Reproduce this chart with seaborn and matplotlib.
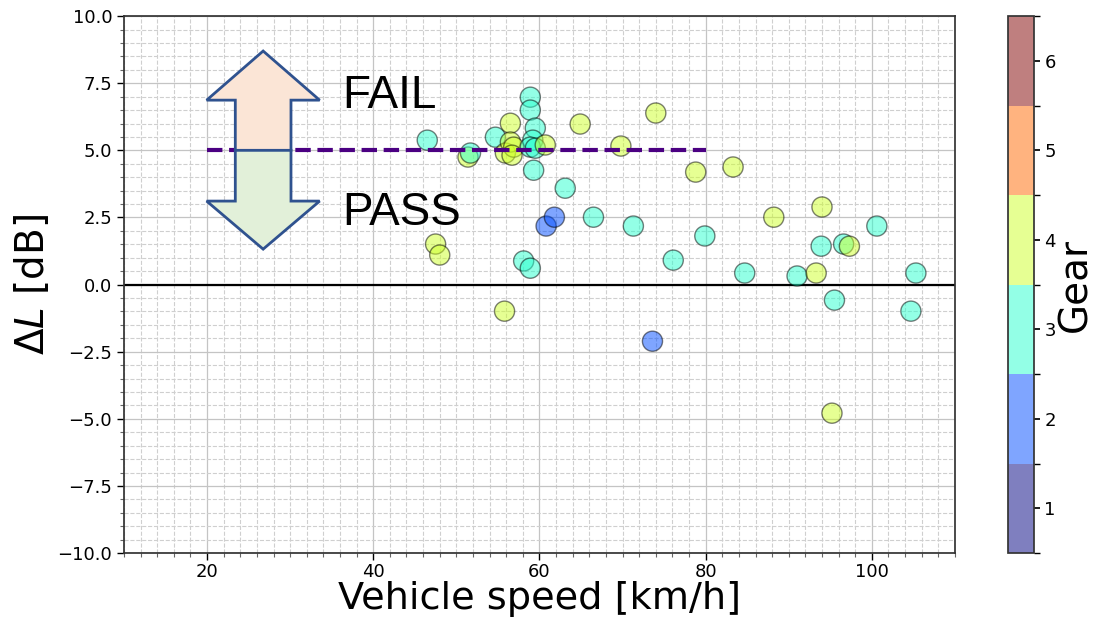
import numpy as np
import pandas as pd
import matplotlib
matplotlib.use("Agg")
import matplotlib.pyplot as plt
from matplotlib.colors import ListedColormap, BoundaryNorm
from matplotlib.cm import ScalarMappable
from matplotlib.patches import FancyArrow
from matplotlib.ticker import MultipleLocator
import seaborn as sns

# Measured level differences per pass-by
speed_kmh = [46.5, 47.5, 48.0, 51.4, 51.7, 54.7, 55.8, 55.9, 56.5, 56.5,
             56.9, 56.7, 58.1, 58.9, 58.9, 59.5, 59.2, 58.9, 59.5, 58.9,
             59.3, 60.7, 60.8, 61.8, 63.1, 64.9, 66.5, 69.8, 71.3, 74.0,
             73.6, 76.1, 78.8, 79.9, 83.3, 84.7, 88.2, 91.0, 93.3, 94.0,
             93.9, 95.5, 95.2, 96.6, 97.3, 100.6, 104.7, 105.3]
delta_l_db = [5.38, 1.51, 1.10, 4.75, 4.90, 5.49, -0.99, 4.90, 6.01, 5.31,
              5.12, 4.82, 0.88, 6.98, 6.50, 5.83, 5.38, 5.12, 5.08, 0.61,
              4.26, 5.20, 2.18, 2.51, 3.59, 5.98, 2.51, 5.16, 2.18, 6.39,
              -2.11, 0.91, 4.19, 1.81, 4.38, 0.43, 2.51, 0.32, 0.43, 2.89,
              1.43, -0.58, -4.79, 1.51, 1.43, 2.18, -0.99, 0.43]
gear = [3, 4, 4, 4, 3, 3, 4, 4, 4, 4,
        4, 4, 3, 3, 3, 3, 3, 3, 3, 3,
        3, 4, 2, 2, 3, 4, 3, 4, 3, 4,
        2, 3, 4, 3, 4, 3, 4, 3, 4, 4,
        3, 3, 4, 3, 4, 3, 3, 3]
gear_levels = [1, 2, 3, 4, 5, 6]
limit_db = 5.0
limit_range = [20, 80]

df = pd.DataFrame({"speed": speed_kmh, "dL": delta_l_db, "gear": gear})

sns.set_theme(style="ticks")
plt.rcParams["font.family"] = ["DejaVu Sans"]
plt.rcParams.update({"text.color": "black", "axes.labelcolor": "black",
                     "xtick.color": "black", "ytick.color": "black"})

jet6 = plt.get_cmap("jet", len(gear_levels))
rgba = jet6(np.arange(len(gear_levels)))
rgba[:, 3] = 0.5
gear_cmap = ListedColormap(rgba)
norm = BoundaryNorm(np.arange(0.5, 7.0, 1.0), gear_cmap.N)
palette = {g: tuple(jet6(i)[:3]) for i, g in enumerate(gear_levels)}

fig = plt.figure(figsize=(10.94, 6.2), dpi=100)
ax = fig.add_axes([0.1133, 0.108, 0.7596, 0.866])
cax = fig.add_axes([0.9214, 0.108, 0.0238, 0.866])

sns.scatterplot(data=df, x="speed", y="dL", hue="gear", palette=palette,
                s=210, alpha=0.5, edgecolor="black", linewidth=1.0,
                legend=False, ax=ax, zorder=3)

ax.set_xlim(10, 110)
ax.set_ylim(-10, 10)
ax.xaxis.set_major_locator(MultipleLocator(20))
ax.xaxis.set_minor_locator(MultipleLocator(2))
ax.yaxis.set_major_locator(MultipleLocator(2.5))
ax.yaxis.set_minor_locator(MultipleLocator(0.5))
ax.grid(which="major", color="#c4c4c4", linestyle="-", linewidth=0.9)
ax.grid(which="minor", color="#cfcfcf", linestyle="--", linewidth=0.8)
ax.set_axisbelow(True)
ax.tick_params(which="major", labelsize=13, length=5, width=1)
ax.tick_params(axis="x", which="major", pad=2.5)
ax.tick_params(which="minor", length=3, width=0.8, color="#666666")
for sp in ax.spines.values():
    sp.set_color("#333333")

ax.axhline(0, color="black", linewidth=1.6, zorder=2)
ax.plot(limit_range, [limit_db, limit_db], color="#4B0082", linewidth=3,
        linestyle=(0, (3.7, 1.6)), zorder=4)

arrow_x = 26.75
ax.add_patch(FancyArrow(arrow_x, limit_db, 0, 3.7, width=6.7, head_width=13.6,
                        head_length=1.83, length_includes_head=True,
                        facecolor="#FBE5D6", edgecolor="#2F528F",
                        linewidth=2, zorder=5))
ax.add_patch(FancyArrow(arrow_x, limit_db, 0, -3.68, width=6.7, head_width=13.6,
                        head_length=1.79, length_includes_head=True,
                        facecolor="#E2F0D9", edgecolor="#2F528F",
                        linewidth=2, zorder=5))

ax.text(36.3, 6.57, "FAIL", fontsize=33, family="Liberation Sans",
        ha="left", va="baseline", zorder=6)
ax.text(36.3, 2.22, "PASS", fontsize=33, family="Liberation Sans",
        ha="left", va="baseline", zorder=6)

ax.set_xlabel("Vehicle speed [km/h]", fontsize=27.5, labelpad=0)
ax.set_ylabel(r"$\Delta L$ [dB]", fontsize=28, labelpad=4)

cb = fig.colorbar(ScalarMappable(norm=norm, cmap=gear_cmap), cax=cax,
                  ticks=gear_levels)
cb.ax.tick_params(labelsize=13, length=4)
cb.outline.set_edgecolor("#333333")
cb.set_label("Gear", fontsize=28, labelpad=0)

fig.savefig("out.png", dpi=100)
